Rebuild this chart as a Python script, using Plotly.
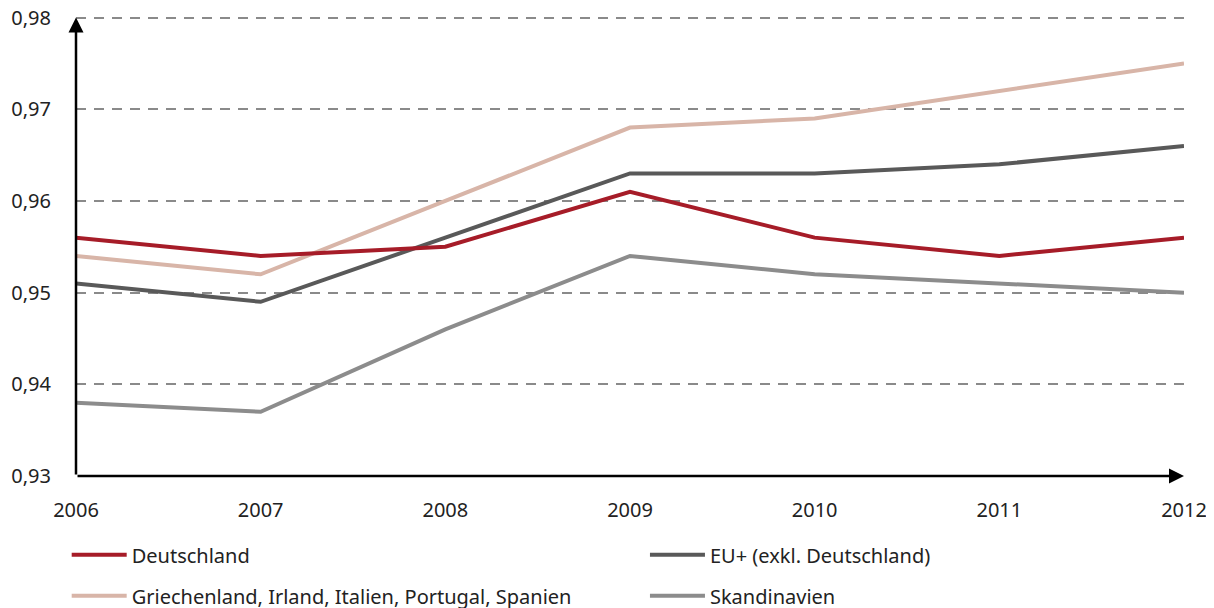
import plotly.graph_objects as go

years = [2006, 2007, 2008, 2009, 2010, 2011, 2012]

deutschland = [0.956, 0.954, 0.955, 0.961, 0.956, 0.954, 0.956]
eu_plus = [0.951, 0.949, 0.956, 0.963, 0.963, 0.964, 0.966]
sued = [0.954, 0.952, 0.960, 0.968, 0.969, 0.972, 0.975]
skandinavien = [0.938, 0.937, 0.946, 0.954, 0.952, 0.951, 0.950]

y_ticks = [0.93, 0.94, 0.95, 0.96, 0.97, 0.98]

# name, values, colour, which legend column
series = [
    ("Deutschland", deutschland, "#A61C28", "legend"),
    ("EU+ (exkl. Deutschland)", eu_plus, "#595959", "legend2"),
    ("Griechenland, Irland, Italien, Portugal, Spanien", sued, "#D8B5A8", "legend"),
    ("Skandinavien", skandinavien, "#8C8C8C", "legend2"),
]

fig = go.Figure()
# draw in reverse so Deutschland ends up on top
for i, (name, vals, color, leg) in reversed(list(enumerate(series))):
    fig.add_trace(go.Scatter(
        x=years, y=vals, name=name, mode="lines",
        line=dict(color=color, width=4),
        legend=leg, legendgroup=name, legendrank=i,
    ))

font = "Noto Sans, Open Sans, sans-serif"
leg_style = dict(
    orientation="v", yanchor="top", xanchor="left",
    traceorder="grouped", tracegroupgap=12, itemwidth=55,
    font=dict(size=20, color="#222222"), bgcolor="rgba(0,0,0,0)",
)

# page body adds an 8px offset, so the figure is 8px smaller each way;
# range top pushed a bit past 0.98 so its gridline is still drawn
fig.update_layout(
    width=1206, height=600,
    margin=dict(l=68, r=30, t=5.42, b=132, autoexpand=False),
    plot_bgcolor="white", paper_bgcolor="white",
    separators=", ",
    font=dict(family=font, size=20, color="#222222"),
    showlegend=True,
    legend=dict(x=-0.0084, y=-0.128, **leg_style),
    legend2=dict(x=0.5135, y=-0.128, **leg_style),
    xaxis=dict(
        range=[2006, 2012], tickvals=years, showgrid=False, zeroline=False,
        showline=False, ticks="outside", ticklen=8, tickcolor="rgba(0,0,0,0)",
        ticklabelstandoff=8, automargin=False, ticklabeloverflow="allow",
    ),
    yaxis=dict(
        range=[0.93, 0.9805], tickvals=y_ticks, tickformat=".2f",
        showgrid=True, gridcolor="#8A8A8A", gridwidth=2, griddash="10px,8px",
        zeroline=False, showline=False, ticks="outside", ticklen=10,
        tickcolor="rgba(0,0,0,0)", ticklabelstandoff=10, automargin=False,
        ticklabeloverflow="allow",
    ),
)

# axis lines with arrowheads
fig.add_annotation(x=2006, y=0.98, ax=2006, ay=0.93, xref="x", yref="y",
                   axref="x", ayref="y", showarrow=True, arrowhead=2,
                   arrowsize=1.2, arrowwidth=2.5, arrowcolor="black", text="")
fig.add_annotation(x=2012, y=0.93, ax=2006, ay=0.93, xref="x", yref="y",
                   axref="x", ayref="y", showarrow=True, arrowhead=2,
                   arrowsize=1.2, arrowwidth=2.5, arrowcolor="black", text="")

fig.write_html("out.html")
